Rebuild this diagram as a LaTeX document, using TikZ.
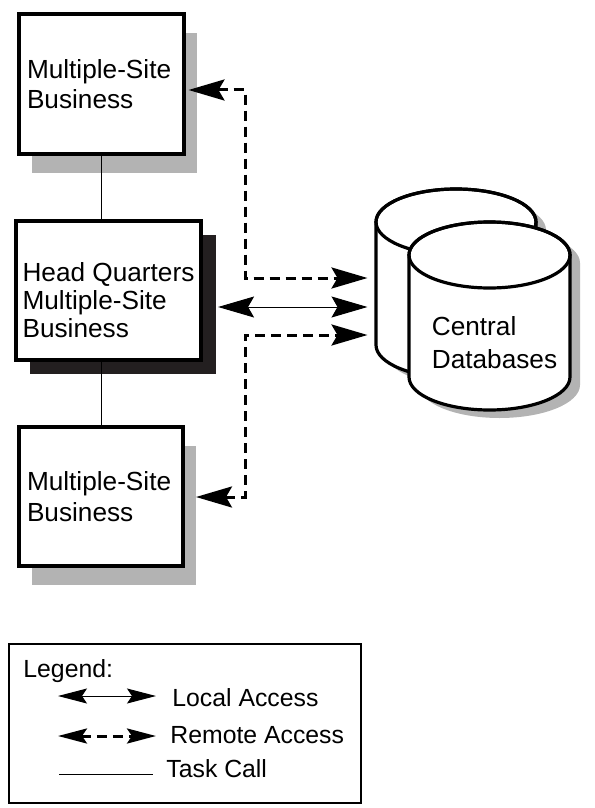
\documentclass[tikz,border=0pt]{standalone}
\usepackage{fontspec}
\setmainfont{Liberation Sans}
\usepackage{xcolor}
\usetikzlibrary{arrows.meta,shadows,positioning}
\definecolor{lightshade}{HTML}{B3B3B3}
\definecolor{darkshade}{HTML}{231F20}

\begin{document}
\begin{tikzpicture}[x = .5pt, y = -.5pt,
  every node/.style = {font = \fontsize{13.1pt}{15.3pt}\selectfont},
  sitebox/.style = {draw, line width = 2pt, fill = white, align = left},
  keytext/.style = {anchor = base west, inner sep = 0, font = \fontsize{12.4pt}{15pt}\selectfont},
  lightdrop/.style = {drop shadow = {shadow xshift = 6.5pt, shadow yshift = -9.5pt, fill = lightshade, opacity = 1}},
  darkdrop/.style = {drop shadow = {shadow xshift = 7.25pt, shadow yshift = -6.75pt, fill = darkshade, opacity = 1}},
  localaccess/.style = {{Stealth[length = 18pt, width = 10.5pt, inset = 3pt]}-{Stealth[length = 18pt, width = 10.5pt, inset = 3pt]}, line width = .5pt},
  remoteaccess/.style = {{Stealth[length = 18pt, width = 10.5pt, inset = 3pt]}-{Stealth[length = 18pt, width = 10.5pt, inset = 3pt]}, line width = 1.5pt, dash pattern = on 5pt off 3pt},
  localkey/.style = {{Stealth[length = 14.5pt, width = 7.5pt, inset = 2.5pt]}-{Stealth[length = 14.5pt, width = 7.5pt, inset = 2.5pt]}, line width = .5pt},
  remotekey/.style = {{Stealth[length = 14.5pt, width = 7.5pt, inset = 2.5pt]}-{Stealth[length = 14.5pt, width = 7.5pt, inset = 2.5pt]}, line width = 1.5pt, dash pattern = on 5pt off 3pt},
  taskcall/.style = {line width = .5pt},
  cyl/.style = {line width = 1.6pt}]
\useasboundingbox (0,0) rectangle (594,808);

% sites
\node[sitebox, lightdrop, minimum width = 82.5pt, minimum height = 70pt, text width = 74pt, inner xsep = 4.25pt] (topsite) at (101,84) {Multiple-Site\\Business};
\node[sitebox, darkdrop, minimum width = 90.5pt, minimum height = 69.5pt, font = \fontsize{13.1pt}{14pt}\selectfont] (hq) at (108.5,290.5) {\rule{0pt}{18.8pt}Head Quarters\\Multiple-Site\\Business};
\node[sitebox, lightdrop, minimum width = 82pt, minimum height = 69.5pt, text width = 74pt, inner xsep = 4pt] (lowsite) at (101,496.5) {Multiple-Site\\Business};

\draw[taskcall] (topsite.south) -- (topsite.south |- hq.north);
\draw[taskcall] (lowsite.north |- hq.south) -- (lowsite.north);

% central databases
\fill[lightshade] (386,230) -- (386,353) arc[start angle = 180, end angle = 0, x radius = 80, y radius = 33] -- (546,230) arc[start angle = 0, end angle = -180, x radius = 80, y radius = 33] -- cycle;
\filldraw[cyl, fill = white] (376,222) -- (376,345) arc[start angle = 180, end angle = 0, x radius = 80, y radius = 33] -- (536,222) arc[start angle = 0, end angle = -180, x radius = 80, y radius = 33] -- cycle;
\draw[cyl] (456,222) ellipse[x radius = 80, y radius = 33];
\fill[lightshade] (419,263) -- (419,385) arc[start angle = 180, end angle = 0, x radius = 80.5, y radius = 33] -- (580,263) arc[start angle = 0, end angle = -180, x radius = 80.5, y radius = 33] -- cycle;
\filldraw[cyl, fill = white] (409,255) -- (409,377) arc[start angle = 180, end angle = 0, x radius = 80.5, y radius = 33] -- (570,255) arc[start angle = 0, end angle = -180, x radius = 80.5, y radius = 33] -- cycle;
\draw[cyl] (489.5,255) ellipse[x radius = 80.5, y radius = 33];
\node[align = left, inner sep = 0, font = \fontsize{13.1pt}{16.5pt}\selectfont] (dbtext) at (494.5,343) {Central\\Databases};

% access paths
\coordinate (dbup) at (376,278);
\coordinate (dbmid) at (376,307);
\coordinate (dblow) at (376,335);
\coordinate (upbend) at (245,90);
\coordinate (lowbend) at (245,497);
\draw[remoteaccess, shorten < = 1.5pt, shorten > = 4.25pt] (upbend -| topsite.east) -- (upbend) |- (dbup);
\draw[localaccess, shorten < = 7.5pt, shorten > = 4.25pt] (dbmid -| hq.east) -- (dbmid);
\draw[remoteaccess, shorten < = 5.5pt, shorten > = 4.25pt] (lowbend -| lowsite.east) -- (lowbend) |- (dblow);

% legend
\draw[line width = .7pt] (9,644) rectangle (361,803);
\node[keytext] (legendtitle) at (23,677) {Legend:};
\node[keytext] (localtext) at (172,706) {Local Access};
\node[keytext] (remotetext) at (170,743) {Remote Access};
\node[keytext] (tasktext) at (166,777) {Task Call};
\coordinate (localkeyA) at (58,696);
\coordinate (localkeyB) at (156,696);
\coordinate (remotekeyA) at (58,736);
\coordinate (remotekeyB) at (156,736);
\coordinate (taskkeyA) at (59,774);
\coordinate (taskkeyB) at (153,774);
\draw[localkey] (localkeyA) -- (localkeyB);
\draw[remotekey] (remotekeyA) -- (remotekeyB);
\draw[taskcall] (taskkeyA) -- (taskkeyB);
\end{tikzpicture}
\end{document}
